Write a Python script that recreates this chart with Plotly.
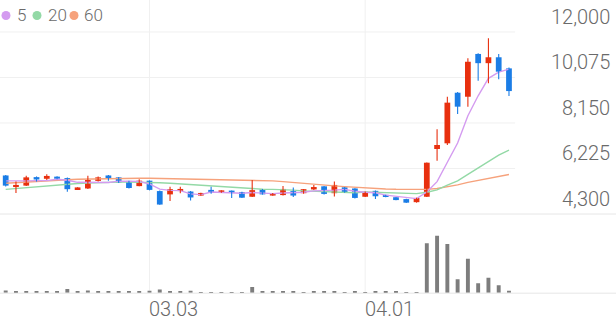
import plotly.graph_objects as go

# ---------------- data ----------------
idx = list(range(50))
opens = [5930, 5440, 5500, 5860, 5790, 5880, 5820, 5345, 5380, 5700,
         5930, 5850, 5700, 5480, 5710, 5270, 5130, 5270, 5250, 5080,
         5310, 5220, 5270, 5230, 5030, 5340, 5080, 5100, 5270, 5180,
         5340, 5470, 5180, 5430, 5380, 5030, 5280, 5100, 5010, 4930,
         4800, 5030, 7050, 7290, 9430, 9260, 11070, 10680, 10930, 10460]
highs = [5950, 5670, 5920, 5890, 5980, 5900, 5840, 5430, 5920, 5890,
         5950, 5870, 5710, 5770, 5720, 5290, 5450, 5450, 5270, 5200,
         5450, 5300, 5290, 5240, 5740, 5360, 5190, 5480, 5420, 5360,
         5530, 5480, 5670, 5440, 5390, 5255, 5290, 5110, 5010, 4940,
         4990, 6480, 7880, 9260, 9460, 10890, 11100, 11730, 11070, 10500]
lows = [5460, 5190, 5480, 5670, 5740, 5770, 5240, 5330, 5360, 5680,
        5710, 5610, 5380, 5470, 5300, 4690, 4850, 5180, 4870, 5070,
        5160, 5200, 4980, 4975, 5020, 5120, 5070, 5080, 5020, 5160,
        5320, 5130, 5040, 5200, 4960, 5020, 4930, 5010, 4880, 4765,
        4780, 5020, 6550, 7220, 8530, 8840, 9940, 9830, 10000, 9290]
closes = [5500, 5530, 5850, 5760, 5910, 5790, 5350, 5410, 5740, 5850,
          5810, 5630, 5400, 5710, 5320, 4700, 5350, 5360, 5000, 5190,
          5240, 5290, 5210, 4990, 5310, 5130, 5180, 5360, 5080, 5350,
          5440, 5150, 5530, 5220, 4980, 5240, 5050, 5030, 4890, 4780,
          4980, 6470, 7220, 9010, 8840, 10740, 10680, 10930, 10320, 9500]
ma5 = [5700, 5690, 5700, 5710, 5710, 5770, 5730, 5640, 5640, 5630,
       5630, 5690, 5690, 5680, 5570, 5350, 5300, 5290, 5150, 5120,
       5230, 5220, 5190, 5180, 5210, 5190, 5160, 5190, 5210, 5220,
       5280, 5280, 5310, 5340, 5260, 5220, 5200, 5100, 5040, 5000,
       4950, 5230, 5670, 6490, 7300, 8460, 9300, 10040, 10300, 10430]
ma20 = [5340, 5380, 5420, 5460, 5500, 5530, 5560, 5590, 5610, 5630,
        5640, 5650, 5650, 5650, 5640, 5620, 5600, 5570, 5540, 5510,
        5500, 5480, 5450, 5410, 5380, 5350, 5340, 5340, 5310, 5280,
        5260, 5240, 5250, 5220, 5200, 5230, 5220, 5200, 5190, 5170,
        5160, 5220, 5320, 5520, 5700, 5980, 6250, 6530, 6790, 7000]
ma60 = [5600, 5630, 5660, 5690, 5710, 5730, 5750, 5770, 5780, 5800,
        5810, 5810, 5810, 5810, 5810, 5800, 5800, 5790, 5790, 5780,
        5780, 5770, 5760, 5750, 5740, 5720, 5700, 5670, 5640, 5600,
        5560, 5520, 5490, 5460, 5430, 5400, 5380, 5360, 5345, 5335,
        5330, 5340, 5380, 5450, 5530, 5640, 5720, 5800, 5890, 5970]
volumes = [230000, 170000, 170000, 170000, 100000, 100000, 370000, 130000, 230000, 130000,
           100000, 130000, 130000, 130000, 200000, 330000, 130000, 130000, 200000, 70000,
           70000, 70000, 70000, 70000, 570000, 130000, 130000, 130000, 100000, 70000,
           100000, 100000, 130000, 70000, 100000, 70000, 130000, 100000, 100000, 70000,
           70000, 4940000, 5700000, 4870000, 1340000, 3400000, 940000, 1500000, 740000, 200000]
x_tick_vals = [14, 35]
x_tick_text = ["03.03", "04.01"]
y_tick_vals = [4300, 6225, 8150, 10075, 12000]
ma_labels = ["5", "20", "60"]

# ---------------- styles ----------------
W, H = 616, 321
UP = "#e8300f"
DOWN = "#1b7de6"
MA_COLORS = ["#d49bf0", "#93d9a6", "#f6a27c"]
GRID = "#f0f0f0"
TEXT = "#6a6a6a"
FONT = "Roboto"

def px(xp):
    return xp / W

def py(yp):
    return 1 - yp / H

fig = go.Figure()

# moving averages
for vals, col in zip([ma60, ma20, ma5], [MA_COLORS[2], MA_COLORS[1], MA_COLORS[0]]):
    fig.add_trace(go.Scatter(x=idx, y=vals, mode="lines",
                             line=dict(color=col, width=1.4),
                             hoverinfo="skip", showlegend=False))

MIN_BODY = 80
for up, col in [(True, UP), (False, DOWN)]:
    sel = [i for i in idx if (closes[i] >= opens[i]) == up]
    wx, wy = [], []
    for i in sel:
        wx += [i, i, None]
        wy += [lows[i], highs[i], None]
    fig.add_trace(go.Scatter(x=wx, y=wy, mode="lines",
                             line=dict(color=col, width=1.1),
                             hoverinfo="skip", showlegend=False))
    fig.add_trace(go.Bar(x=sel,
                         y=[max(abs(closes[i] - opens[i]), MIN_BODY) for i in sel],
                         base=[min(opens[i], closes[i]) for i in sel],
                         width=0.56, marker=dict(color=col, line=dict(width=0)),
                         hoverinfo="skip", showlegend=False))

# volume
fig.add_trace(go.Bar(x=idx, y=volumes, yaxis="y2", width=0.38,
                     marker=dict(color="#7d7d7d", line=dict(width=0)),
                     hoverinfo="skip", showlegend=False))

shapes = []
# vertical grid lines
for xv in x_tick_vals:
    shapes.append(dict(type="line", xref="x", yref="paper", x0=xv, x1=xv,
                       y0=py(293), y1=1, line=dict(color=GRID, width=1), layer="below"))
# horizontal grid lines
for yv in y_tick_vals[1:]:
    shapes.append(dict(type="line", xref="x", yref="y", x0=-0.6, x1=49.6,
                       y0=yv, y1=yv, line=dict(color=GRID, width=1), layer="below"))
shapes.append(dict(type="line", xref="paper", yref="y", x0=0, x1=1,
                   y0=y_tick_vals[0], y1=y_tick_vals[0],
                   line=dict(color="#e6e6e6", width=1), layer="below"))
shapes.append(dict(type="line", xref="paper", yref="paper", x0=0, x1=1,
                   y0=py(293.2), y1=py(293.2),
                   line=dict(color="#e6e6e6", width=1), layer="below"))

annotations = []
for yv in y_tick_vals:
    annotations.append(dict(xref="paper", yref="y", x=px(612), y=yv, yshift=15,
                            xanchor="right", yanchor="middle", showarrow=False,
                            text=f"{yv:,}",
                            font=dict(family=FONT, size=20, color=TEXT, weight=300)))
for xv, t in zip(x_tick_vals, x_tick_text):
    annotations.append(dict(xref="x", yref="paper", x=xv, y=py(309), xshift=-2,
                            xanchor="left", yanchor="middle", showarrow=False,
                            text=t, font=dict(family=FONT, size=20, color=TEXT, weight=300)))

# MA legend
leg_circles = [6, 37, 74]
leg_text_x = [15, 46, 82]
for cx, tx, col, lab in zip(leg_circles, leg_text_x, MA_COLORS, ma_labels):
    shapes.append(dict(type="circle", xref="paper", yref="paper",
                       x0=px(cx - 4.5), x1=px(cx + 4.5), y0=py(20), y1=py(11),
                       fillcolor=col, line=dict(width=0)))
    annotations.append(dict(xref="paper", yref="paper", x=px(tx), y=py(15.5),
                            xanchor="left", yanchor="middle", showarrow=False,
                            text=lab, font=dict(family=FONT, size=17, color=TEXT, weight=300)))

fig.update_layout(
    width=W, height=H, margin=dict(l=0, r=0, t=0, b=0),
    paper_bgcolor="white", plot_bgcolor="white",
    barmode="overlay", showlegend=False,
    xaxis=dict(range=[-0.555, 59.42], visible=False, fixedrange=True),
    yaxis=dict(domain=[py(218), 1], range=[4131, 13352], visible=False),
    yaxis2=dict(domain=[py(292.7), py(225)], range=[0, 6770000], visible=False),
    shapes=shapes, annotations=annotations,
)

fig.write_html("out.html")
